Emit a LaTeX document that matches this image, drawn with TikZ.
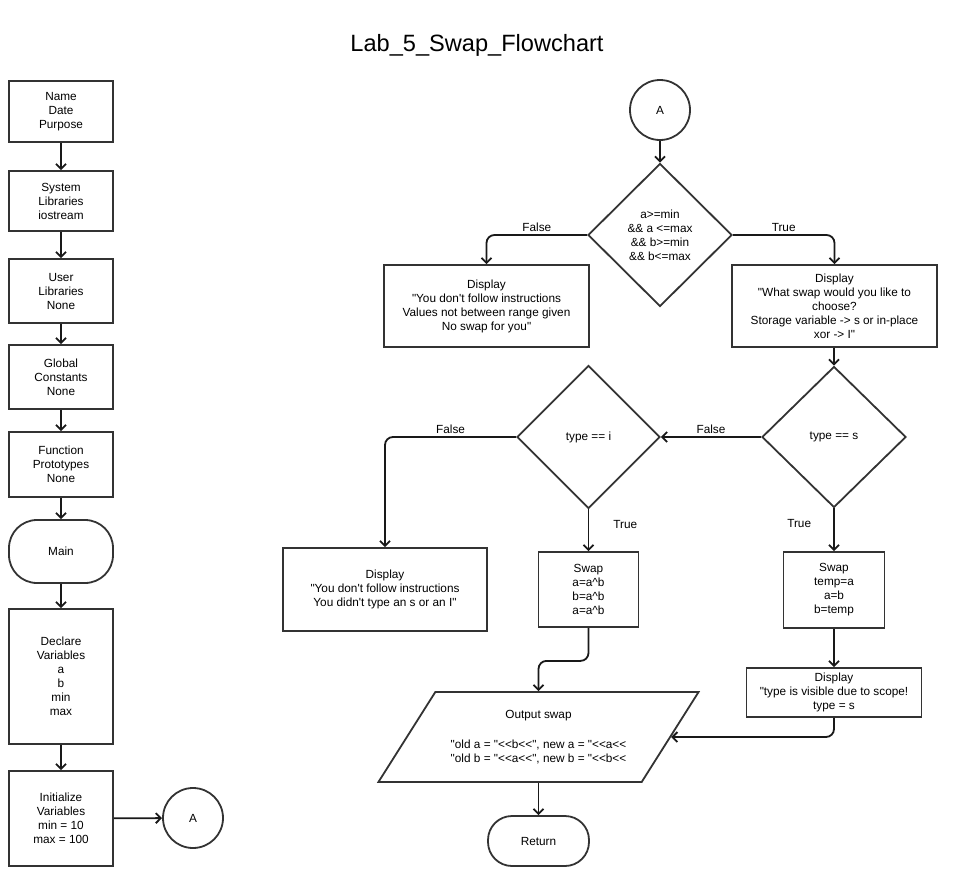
\documentclass[tikz,border=0pt]{standalone}
\usepackage{fontspec}
\setmainfont{Liberation Sans}[Ligatures=TeXOff]
\usetikzlibrary{shapes.geometric,arrows.meta}

\begin{document}
\begin{tikzpicture}[
    x=1pt, y=-1pt,
    box/.style={draw=black!80, line width=1.8pt, rectangle, align=center, inner sep=0pt,
        font=\fontsize{11.8}{14}\selectfont},
    term/.style={box, rounded corners=28pt},
    conn/.style={box, circle, minimum size=60pt},
    decide/.style={box, diamond, minimum width=144pt, minimum height=143pt},
    io/.style={box, trapezium, trapezium left angle=48, trapezium right angle=132,
        trapezium stretches=true, minimum width=321pt, minimum height=90pt},
    arr/.style={draw=black!90, line width=1.8pt, rounded corners=8pt,
        -{Straight Barb[length=5pt,width=10pt]}},
    tag/.style={font=\fontsize{11.8}{14}\selectfont, inner sep=2pt}
]
    \useasboundingbox (0,0) rectangle (959,886);

    % Title
    \node[font=\fontsize{23.6}{26}\selectfont] (title) at (477,45) {Lab\_5\_Swap\_Flowchart};

    % Left column
    \node[box, minimum width=104pt, minimum height=61pt] (info) at (61,111.5) {Name\\Date\\Purpose};
    \node[box, minimum width=104pt, minimum height=60pt] (syslib) at (61,201) {System\\Libraries\\iostream};
    \node[box, minimum width=104pt, minimum height=64pt] (usrlib) at (61,291) {User\\Libraries\\None};
    \node[box, minimum width=104pt, minimum height=64pt] (consts) at (61,377) {Global\\Constants\\None};
    \node[box, minimum width=104pt, minimum height=65pt] (protos) at (61,464.5) {Function\\Prototypes\\None};
    \node[term, minimum width=104pt, minimum height=63pt] (main) at (61,551.5) {Main};
    \node[box, minimum width=104pt, minimum height=135pt] (declare) at (61,676.5) {Declare\\Variables\\a\\b\\min\\max};
    \node[box, minimum width=104pt, minimum height=95pt] (init) at (61,818.5) {Initialize\\Variables\\min = 10\\max = 100};
    \node[conn] (aleft) at (193,818) {A};

    \draw[arr] (info) -- (syslib);
    \draw[arr] (syslib) -- (usrlib);
    \draw[arr] (usrlib) -- (consts);
    \draw[arr] (consts) -- (protos);
    \draw[arr] (protos) -- (main);
    \draw[arr] (main) -- (declare);
    \draw[arr] (declare) -- (init);
    \draw[arr] (init) -- (aleft);

    % Range check
    \node[conn] (atop) at (660,110) {A};
    \node[decide] (range) at (660,235) {a>=min\\\&\& a <=max\\\&\& b>=min\\\&\& b<=max};
    \node[box, minimum width=205pt, minimum height=82pt] (badrange) at (486.5,306)
        {Display\\"You don't follow instructions\\Values not between range given\\No swap for you"};
    \node[box, minimum width=205pt, minimum height=82pt] (choose) at (834.5,306)
        {Display\\"What swap would you like to\\choose?\\Storage variable -> s or in-place\\xor -> I"};

    \draw[arr] (atop) -- (range);
    \draw[arr] (range.west) -| node[tag, above, pos=0.25] {False} (badrange.north);
    \draw[arr] (range.east) -| node[tag, above, pos=0.25] {True} (choose.north);

    % Swap type
    \node[decide, minimum height=141pt] (types) at (834,437) {type == s};
    \node[decide, minimum width=143pt, minimum height=143pt] (typei) at (588.5,437) {type == i};
    \node[box, minimum width=204pt, minimum height=83pt] (badtype) at (385,589.5)
        {Display\\"You don't follow instructions\\You didn't type an s or an I"};
    \node[box, minimum width=100pt, minimum height=75pt] (swapxor) at (588.5,589.5)
        {Swap\\a=a\textasciicircum b\\b=a\textasciicircum b\\a=a\textasciicircum b};
    \node[box, minimum width=101pt, minimum height=76pt] (swaptmp) at (834,590)
        {Swap\\temp=a\\a=b\\b=temp};
    \node[box, minimum width=175pt, minimum height=49pt] (scope) at (834,692.5)
        {Display\\"type is visible due to scope!\\type = s};

    \draw[arr] (choose.south -| types.north) -- (types.north);
    \draw[arr] (types.west) -- node[tag, above] {False} (typei.east);
    \draw[arr] (typei.west) -| node[tag, above, pos=0.25] {False} (badtype.north);
    \draw[arr] (typei.south) -- node[tag, right=22pt, pos=0.35] {True} (swapxor.north);
    \draw[arr] (types.south) -- node[tag, left=20pt, pos=0.35] {True} (swaptmp.north);
    \draw[arr] (swaptmp) -- (scope);

    % Output and return
    \node[io] (out) at (538.5,737)
        {Output swap\\[16pt]"old a = "<<b<<", new a = "<<a<<\\"old b = "<<a<<", new b = "<<b<<};
    \node[term, minimum width=101pt, minimum height=50pt, rounded corners=24pt] (ret) at (538.5,841) {Return};

    \draw[arr] (swapxor.south) -- ++(0,33) -| (out.north -| ret.north);
    \draw[arr] (scope.south) |- (out.east);
    \draw[arr] (out.south -| ret.north) -- (ret.north);
\end{tikzpicture}
\end{document}
